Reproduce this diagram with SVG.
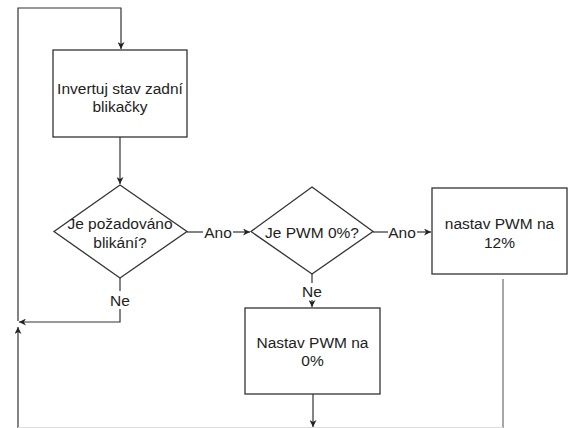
<svg xmlns="http://www.w3.org/2000/svg" width="574" height="428" viewBox="0 0 574 428">
<style>
.shape{fill:#fff;stroke:#333;stroke-width:1.3}
.edge{fill:none;stroke:#333;stroke-width:1.2}
.t{font-family:"Liberation Sans",Arial,sans-serif;font-size:15.5px;fill:#222;text-anchor:middle;dominant-baseline:central}
.lbl{font-family:"Liberation Sans",Arial,sans-serif;font-size:15.5px;fill:#222;text-anchor:middle;dominant-baseline:central}
</style>
<defs>
<marker id="arr" viewBox="0 0 10 10" refX="10" refY="5" markerWidth="7" markerHeight="7" orient="auto" markerUnits="userSpaceOnUse">
<path d="M0,0 L10,5 L0,10 L3,5 Z" fill="#222"/>
</marker>
</defs>
<rect width="574" height="428" fill="#fff"/>
<g id="connectors">
<path class="edge" d="M18,321 V8 H121 V49" marker-end="url(#arr)"/>
<path class="edge" d="M120,137 V184" marker-end="url(#arr)"/>
<path class="edge" d="M187,232 H203"/>
<path class="edge" d="M233,232 H250" marker-end="url(#arr)"/>
<path class="edge" d="M373,232 H388"/>
<path class="edge" d="M417,232 H431" marker-end="url(#arr)"/>
<path class="edge" d="M120,278 V291"/>
<path class="edge" d="M120,309 V322 H19" marker-end="url(#arr)"/>
<path class="edge" d="M18,428 V327" marker-end="url(#arr)"/>
<path class="edge" d="M312,274 V283"/>
<path class="edge" d="M312,300 V307" marker-end="url(#arr)"/>
<path class="edge" d="M313,394 V427" marker-end="url(#arr)"/>
<path class="edge" d="M503,279 V428" style="stroke:#888;stroke-width:1.5"/>
<path d="M18,427.5 H503" fill="none" stroke="#ddd" stroke-width="1"/>
<text class="lbl" x="218" y="232">Ano</text>
<text class="lbl" x="402" y="232">Ano</text>
<text class="lbl" x="120" y="300">Ne</text>
<text class="lbl" x="312" y="291">Ne</text>
</g>
<g id="invertuj">
<rect class="shape" x="53" y="50" width="134" height="87"/>
<text class="t" x="120" y="88">Invertuj stav zadní</text>
<text class="t" x="120" y="106">blikačky</text>
</g>
<g id="pozadovano">
<polygon class="shape" points="120,185 187,231.5 120,278 54,231.5"/>
<text class="t" x="120" y="223">Je požadováno</text>
<text class="t" x="120" y="242">blikání?</text>
</g>
<g id="pwm0">
<polygon class="shape" points="312,187 373,231.5 312,274 251,231.5"/>
<text class="t" x="312" y="232">Je PWM 0%?</text>
</g>
<g id="nastav12">
<rect class="shape" x="432" y="188" width="135" height="86"/>
<text class="t" x="499.5" y="223">nastav PWM na</text>
<text class="t" x="499.5" y="242">12%</text>
</g>
<g id="nastav0">
<rect class="shape" x="245" y="308" width="135" height="86"/>
<text class="t" x="312.5" y="342">Nastav PWM na</text>
<text class="t" x="312.5" y="360">0%</text>
</g>
</svg>
